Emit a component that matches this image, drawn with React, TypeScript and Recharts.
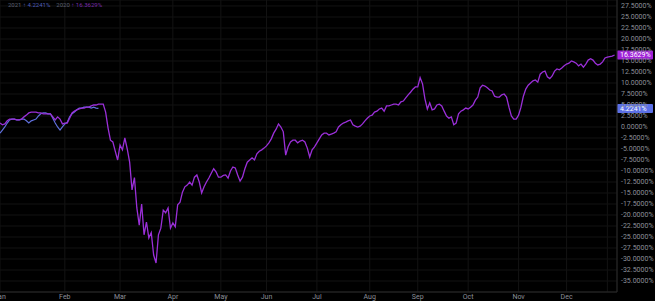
import React from "react";
import {
  LineChart,
  Line,
  XAxis,
  YAxis,
  CartesianGrid,
  ReferenceLine,
} from "recharts";

// % change since start of year, one value per trading day
const perf2020 = [
  0.9, 0.5, 0.7, 1.4, 1.8, 1.8, 1.8, 1.6, 1.6, 1.8,
  2.3, 2.7, 3.2, 3.4, 3.4, 3.4, 3.2, 3.2, 3.0, 3.0,
  3.0, 3.0, 2.3, 1.6, 2.3, 1.8, 0.7, 0.9, 0.9, 2.0,
  3.2, 3.6, 3.9, 4.1, 4.3, 4.3, 4.5, 4.5, 4.8, 5.0,
  5.0, 5.2, 5.2, 5.2, 3.4, -0.2, -3.0, -3.4, -5.5, -7.5,
  -4.1, -5.2, -2.5, -5.0, -8.0, -14.3, -11.5, -18.4, -22.3, -17.5,
  -24.5, -21.6, -25.2, -24.0, -29.1, -30.9, -24.5, -23.0, -18.9, -19.5,
  -18.4, -23.0, -21.8, -22.7, -17.7, -17.1, -14.8, -13.6, -13.2, -12.5,
  -13.2, -11.4, -10.9, -12.5, -15.0, -13.6, -12.5, -11.6, -10.5, -9.5,
  -10.2, -11.4, -11.4, -11.0, -10.9, -11.6, -10.0, -9.1, -9.3, -10.9,
  -12.3, -11.4, -9.5, -8.0, -7.5, -7.0, -7.5, -6.1, -5.5, -5.2,
  -4.8, -4.3, -3.6, -2.7, -1.4, -0.5, 0.7, 0.0, -1.1, -6.4,
  -4.5, -3.4, -3.0, -3.0, -3.6, -3.2, -3.0, -3.4, -4.8, -6.8,
  -5.2, -4.5, -3.6, -2.7, -1.8, -1.4, -1.4, -1.8, -1.6, -1.4,
  -1.1, 0.0, 0.5, 0.9, 1.1, 1.4, 1.6, 0.5, 0.2, 0.0,
  0.2, 0.7, 1.4, 2.0, 2.5, 2.7, 3.4, 3.6, 4.1, 4.3,
  3.6, 4.8, 4.8, 5.0, 5.2, 5.2, 5.0, 5.7, 5.9, 6.6,
  7.3, 7.9, 8.6, 9.1, 9.1, 11.2, 9.8, 6.4, 4.1, 5.5,
  3.9, 4.1, 5.0, 5.2, 4.8, 3.6, 2.5, 2.0, 2.3, 0.5,
  0.9, 3.0, 3.6, 3.9, 4.3, 4.1, 4.5, 5.0, 6.1, 6.8,
  8.9, 9.5, 9.3, 8.9, 8.4, 8.2, 7.0, 6.8, 6.8, 7.3,
  7.5, 6.8, 4.5, 2.5, 1.8, 1.8, 2.7, 4.5, 7.0, 8.6,
  9.5, 10.0, 10.5, 10.7, 10.2, 12.0, 12.5, 12.7, 11.4, 11.0,
  11.6, 12.7, 13.2, 13.0, 13.4, 13.9, 14.3, 14.5, 15.0, 14.8,
  14.5, 13.9, 14.3, 13.6, 14.3, 15.2, 15.5, 15.2, 14.5, 14.1,
  14.3, 14.8, 15.7, 15.9, 16.0, 16.1, 16.3629,
];

const perf2021 = [
  -1.4, -0.7, 0.0, 0.9, 1.6, 1.8, 1.8, 1.6, 1.6, 1.8,
  1.8, 1.4, 0.9, 1.4, 1.6, 1.8, 2.5, 3.0, 3.2, 3.2,
  3.0, 3.0, 2.0, 0.9, 0.0, -0.7, 0.0, 0.7, 1.1, 2.3,
  3.0, 3.4, 3.9, 4.3, 4.3, 4.5, 4.5, 4.5, 4.3, 4.5,
  4.3, 4.2241,
];

const monthTicks = [0, 27, 50, 72, 92, 111, 132, 154, 174, 195, 216, 236, 253];
const monthLabels = ["Jan", "Feb", "Mar", "Apr", "May", "Jun", "Jul", "Aug", "Sep", "Oct", "Nov", "Dec", ""];

const yTicks = [
  27.5, 25, 22.5, 20, 17.5, 15, 12.5, 10, 7.5, 5, 2.5, 0,
  -2.5, -5, -7.5, -10, -12.5, -15, -17.5, -20, -22.5, -25, -27.5, -30, -32.5, -35,
];

const data = perf2020.map((v, i) => ({
  day: i,
  y2020: v,
  y2021: i < perf2021.length ? perf2021[i] : null,
}));

const last2020 = perf2020[perf2020.length - 1];
const last2021 = perf2021[perf2021.length - 1];

const fmt = (v: number) => v.toFixed(4) + "%";

function Badge(props: any) {
  const { viewBox, text, fill } = props;
  if (!viewBox) return null;
  const x = viewBox.x + viewBox.width;
  const y = viewBox.y;
  return (
    <g>
      <rect x={x} y={y - 4.5} width={36} height={9} fill={fill} rx={1} />
      <text x={x + 3} y={y + 2.5} fontSize={7} fill="#ffffff" fontFamily="Roboto, sans-serif">
        {text}
      </text>
    </g>
  );
}

export default function App() {
  return (
    <div
      style={{
        position: "absolute",
        left: 0,
        top: 0,
        width: 655,
        height: 301,
        background: "#000",
        fontFamily: "Roboto, sans-serif",
      }}
    >
      <LineChart
        width={655}
        height={301}
        data={data}
        margin={{ top: 0, right: 0, left: 0, bottom: 0 }}
      >
        <CartesianGrid stroke="#131313" strokeWidth={1} />
        <XAxis
          dataKey="day"
          type="number"
          domain={[0, 257]}
          ticks={monthTicks}
          tickFormatter={(v: number) => monthLabels[monthTicks.indexOf(v)] ?? ""}
          height={9}
          tickLine={false}
          tickSize={0}
          tickMargin={2}
          axisLine={{ stroke: "#2b2b2b" }}
          tick={{ fill: "#8c8f98", fontSize: 7 }}
          interval={0}
        />
        <YAxis
          orientation="right"
          width={38}
          domain={[-37.5, 28.86]}
          ticks={yTicks}
          tickFormatter={fmt}
          tickLine={false}
          tickSize={0}
          tickMargin={4}
          axisLine={{ stroke: "#2b2b2b" }}
          tick={{ fill: "#8c8f98", fontSize: 7 }}
          interval={0}
        />
        <Line
          type="linear"
          dataKey="y2021"
          stroke="#5f6fdc"
          strokeWidth={1.2}
          dot={false}
          activeDot={false}
          isAnimationActive={false}
          connectNulls={false}
        />
        <Line
          type="linear"
          dataKey="y2020"
          stroke="#9a2fd8"
          strokeWidth={1.3}
          dot={false}
          activeDot={false}
          isAnimationActive={false}
        />
        <ReferenceLine
          y={last2020}
          stroke="none"
          label={<Badge text={last2020.toFixed(4) + "%"} fill="#a020d8" />}
        />
        <ReferenceLine
          y={last2021}
          stroke="none"
          label={<Badge text={last2021.toFixed(4) + "%"} fill="#5b6fe6" />}
        />
      </LineChart>
      <div
        style={{
          position: "absolute",
          left: 8,
          top: 0,
          fontSize: 6,
          lineHeight: "9px",
          color: "#5d6070",
          whiteSpace: "nowrap",
        }}
      >
        2021 <span style={{ color: "#4f5cb8" }}>↑ {fmt(last2021)}</span>
        <span style={{ marginLeft: 6 }}>2020</span>{" "}
        <span style={{ color: "#7a2aa8" }}>↑ {fmt(last2020)}</span>
      </div>
    </div>
  );
}
